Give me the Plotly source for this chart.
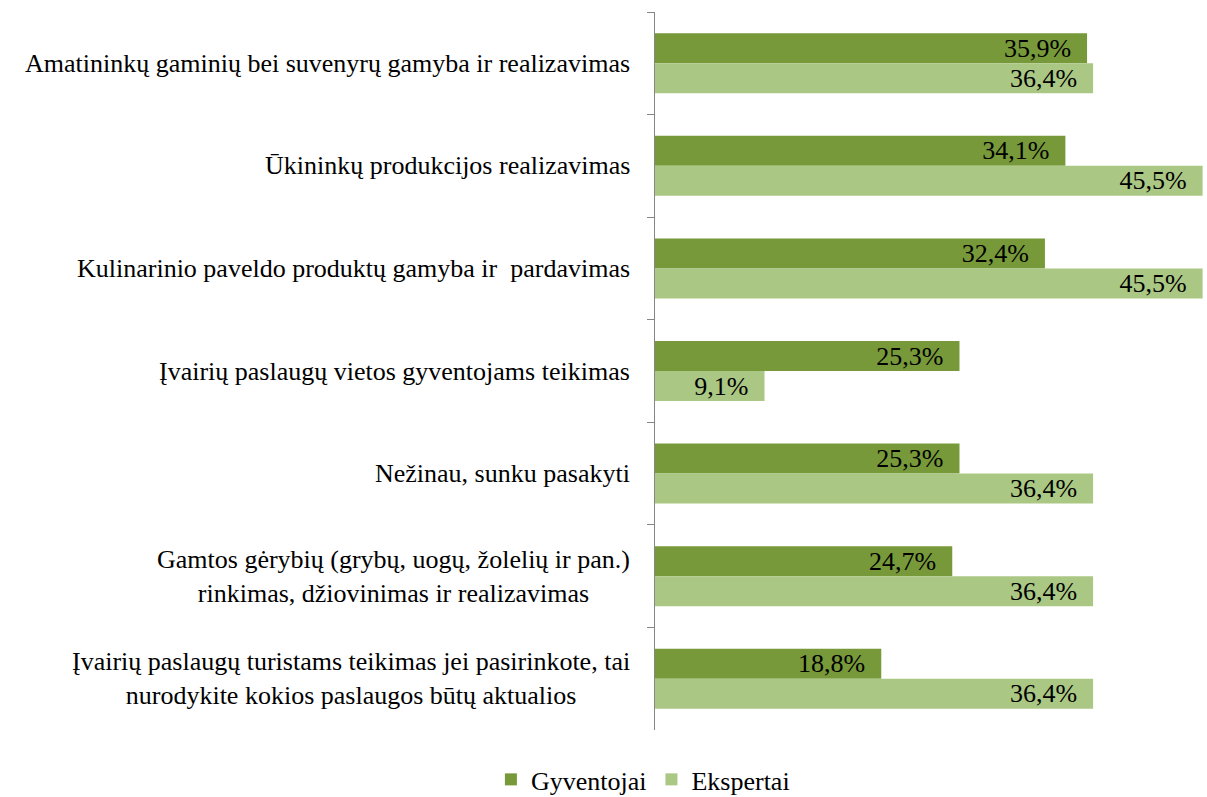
import plotly.graph_objects as go

# Survey categories (top to bottom)
categories = [
    "Amatininkų gaminių bei suvenyrų gamyba ir realizavimas",
    "Ūkininkų produkcijos realizavimas",
    "Kulinarinio paveldo produktų gamyba ir  pardavimas",
    "Įvairių paslaugų vietos gyventojams teikimas",
    "Nežinau, sunku pasakyti",
    "Gamtos gėrybių (grybų, uogų, žolelių ir pan.)<br>rinkimas, džiovinimas ir realizavimas",
    "Įvairių paslaugų turistams teikimas jei pasirinkote, tai<br>nurodykite kokios paslaugos būtų aktualios",
]
gyventojai = [35.9, 34.1, 32.4, 25.3, 25.3, 24.7, 18.8]
ekspertai = [36.4, 45.5, 45.5, 9.1, 36.4, 36.4, 36.4]

FONT = "Times New Roman, Liberation Serif, serif"

fig = go.Figure()
fig.add_trace(go.Bar(
    y=categories, x=gyventojai, orientation="h", name="Gyventojai",
    marker=dict(color="#77993a", line=dict(width=0)),
    texttemplate="%{x:.1f}%\u00a0\u00a0", textposition="inside", insidetextanchor="end",
    constraintext="none", cliponaxis=False,
    textfont=dict(family=FONT, size=26, color="black"),
))
fig.add_trace(go.Bar(
    y=categories, x=ekspertai, orientation="h", name="Ekspertai",
    marker=dict(color="#abc784", line=dict(width=0)),
    texttemplate="%{x:.1f}%\u00a0\u00a0", textposition="inside", insidetextanchor="end",
    constraintext="none", cliponaxis=False,
    textfont=dict(family=FONT, size=26, color="black"),
))

# category labels as annotations so two-line labels stay centred
for c in categories:
    fig.add_annotation(
        x=0, xref="paper", y=c, yref="y", text=c, showarrow=False,
        xanchor="right", xshift=-23, align="center",
        font=dict(family=FONT, size=26, color="black"),
    )

fig.update_layout(
    width=1207, height=797,
    margin=dict(l=655, r=2, t=12, b=67),
    paper_bgcolor="white", plot_bgcolor="white",
    font=dict(family=FONT),
    barmode="group", bargap=0.415, bargroupgap=0,
    separators=", ",
    showlegend=True,
    legend=dict(orientation="h", x=-0.022, xanchor="center",
                yref="container", y=0.022, yanchor="middle",
                font=dict(family=FONT, size=26, color="black"), itemwidth=30),
    xaxis=dict(range=[0, 45.7], visible=False),
    yaxis=dict(autorange="reversed", showticklabels=False, tickson="boundaries",
               ticks="outside", ticklen=7, tickcolor="#868686",
               showline=True, linecolor="#868686", linewidth=1, showgrid=False),
)

fig.write_html("out.html", config={"displayModeBar": False},
               post_script="document.body.style.margin='0';")
